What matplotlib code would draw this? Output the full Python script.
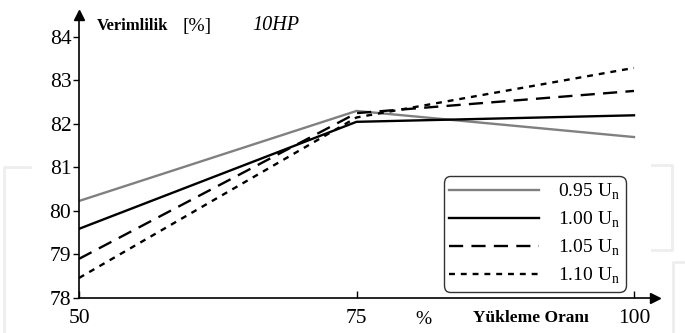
import matplotlib
matplotlib.use("Agg")
import matplotlib.pyplot as plt
from matplotlib.lines import Line2D

plt.rcParams["font.family"] = ["Liberation Serif", "DejaVu Serif"]

# load ratio (%) and efficiency (%) per supply voltage
load = [50, 75, 100]
eff_095 = [80.23, 82.30, 81.70]
eff_100 = [79.59, 82.05, 82.20]
eff_105 = [78.90, 82.25, 82.76]
eff_110 = [78.46, 82.15, 83.29]

labels = ["0.95 U$_{\\mathregular{n}}$", "1.00 U$_{\\mathregular{n}}$",
          "1.05 U$_{\\mathregular{n}}$", "1.10 U$_{\\mathregular{n}}$"]
xticks = [50, 75, 100]
yticks = [78, 79, 80, 81, 82, 83, 84]

W, H = 685, 333
fig = plt.figure(figsize=(W / 100, H / 100), dpi=100)
ax = fig.add_axes([79 / W, 1 - 298 / H, (655 - 79) / W, (298 - 15) / H])

ax.plot(load, eff_095, color="#808080", lw=1.7, label=labels[0])
ax.plot(load, eff_100, color="black", lw=1.7, label=labels[1])
ax.plot(load, eff_105, color="black", lw=1.7, ls=(0, (6, 3.5)), label=labels[2])
ax.plot(load, eff_110, color="black", lw=1.7, ls=(0, (2.5, 2.5)), label=labels[3])

ax.set_xlim(50, 50 + (655 - 79) / 11.1)
ax.set_ylim(78, 78 + (298 - 15) / 43.5)

for s in ("top", "right"):
    ax.spines[s].set_visible(False)
ax.spines["left"].set_linewidth(1.2)
ax.spines["bottom"].set_linewidth(1.2)
ax.plot(1, 0, ">k", ms=7, transform=ax.transAxes, clip_on=False)
ax.plot(0, 1, "^k", ms=7, transform=ax.transAxes, clip_on=False)

ax.set_xticks(xticks)
ax.set_yticks(yticks)
ax.tick_params(axis="y", direction="out", length=4, width=1, labelsize=15.5, pad=1.5)
ax.tick_params(axis="x", direction="in", length=5, width=1, labelsize=15.5, pad=8)

ax.legend(loc="lower right", bbox_to_anchor=((626 - 79) / 576, (298 - 292) / 283),
          fontsize=14, handlelength=4.6, handletextpad=1.0, labelspacing=0.4,
          frameon=True, fancybox=True, edgecolor="black",
          borderpad=0.3, borderaxespad=0)
leg = ax.get_legend()
leg.get_frame().set_linewidth(1.0)
leg.get_frame().set_boxstyle("round", pad=0.0, rounding_size=0.35)

fig.text(97 / W, 1 - 26 / H, "Verimlilik", fontsize=12, fontweight="bold", va="center")
fig.text(183 / W, 1 - 26 / H, "[%]", fontsize=14, va="center")
fig.text(252 / W, 1 - 26 / H, "10HP", fontsize=14.5, style="italic", va="center")
fig.text(473 / W, 1 - 318 / H, "Yükleme Oranı", fontsize=12.5, fontweight="bold", va="center")
fig.text(415 / W, 1 - 320 / H, "%", fontsize=14, va="center")

# faint watermark frames
wm = "#eeeeee"
fig.add_artist(Line2D([30 / W, 4 / W, 4 / W], [1 - 167 / H, 1 - 167 / H, 0],
                      transform=fig.transFigure, color=wm, lw=2))
fig.add_artist(Line2D([652 / W, 672 / W, 672 / W, 652 / W],
                      [1 - 165 / H, 1 - 165 / H, 1 - 250 / H, 1 - 250 / H],
                      transform=fig.transFigure, color=wm, lw=2))
fig.add_artist(Line2D([685 / W, 673 / W, 673 / W], [1 - 262 / H, 1 - 262 / H, 0],
                      transform=fig.transFigure, color=wm, lw=2))

fig.savefig("out.png", dpi=100)
